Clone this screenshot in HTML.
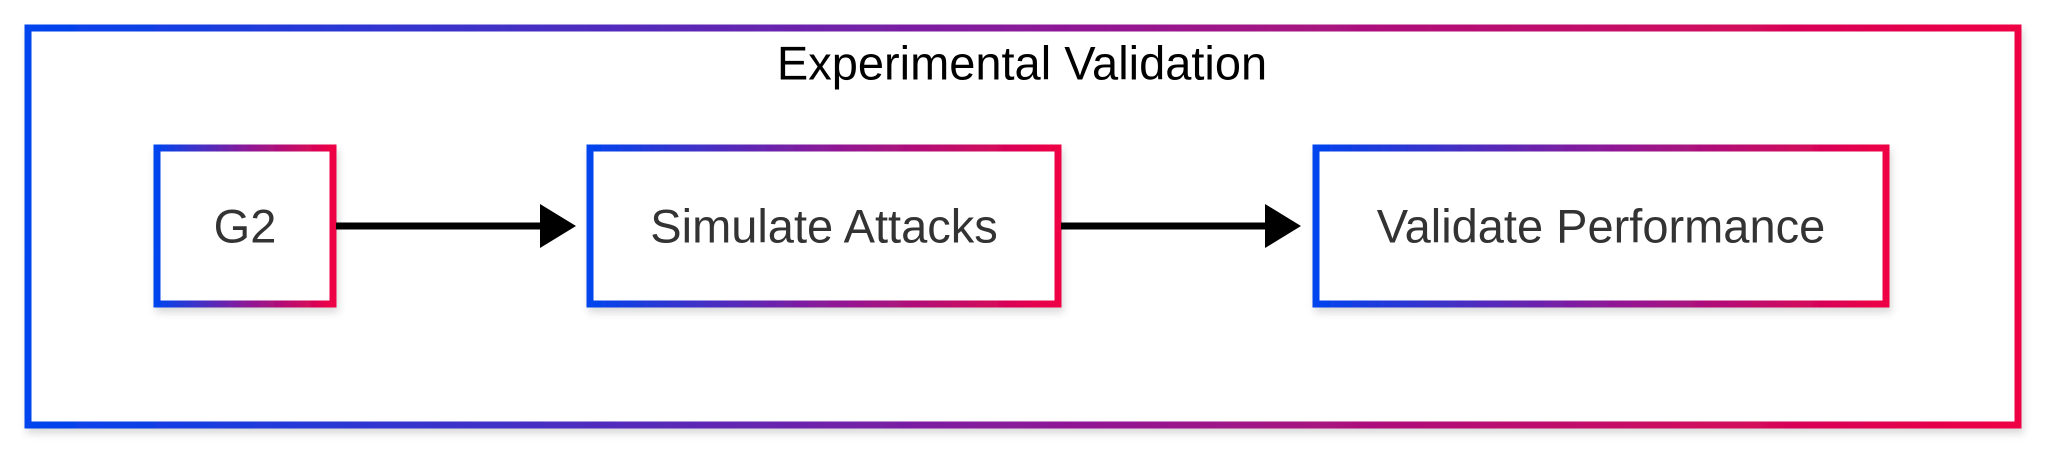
<!DOCTYPE html>
<html><head><meta charset="utf-8"><style>
html,body{margin:0;padding:0;background:#fff;}
svg{display:block;}
</style></head><body>
<svg width="2048" height="453" viewBox="0 0 2048 453" xmlns="http://www.w3.org/2000/svg">
<defs>
<linearGradient id="g" x1="0" y1="0" x2="1" y2="0">
<stop offset="0" stop-color="#0044ee"/><stop offset="0.5" stop-color="#8a1a99"/><stop offset="1" stop-color="#ee0044"/>
</linearGradient>
<filter id="s" x="-10%" y="-10%" width="120%" height="130%">
<feDropShadow dx="2" dy="5" stdDeviation="4" flood-color="#000" flood-opacity="0.15"/>
</filter>
</defs>
<rect x="28" y="28" width="1990" height="397" fill="#fff" stroke="url(#g)" stroke-width="7" filter="url(#s)"/>
<text x="1022" y="63" font-family="Liberation Sans, sans-serif" font-size="47" fill="#000" text-anchor="middle" dominant-baseline="central">Experimental Validation</text>

<rect x="157" y="148" width="176" height="156" fill="#fff" stroke="url(#g)" stroke-width="7" filter="url(#s)"/>
<text x="245" y="226" font-family="Liberation Sans, sans-serif" font-size="47" fill="#333" text-anchor="middle" dominant-baseline="central">G2</text>

<rect x="590" y="148" width="468" height="156" fill="#fff" stroke="url(#g)" stroke-width="7" filter="url(#s)"/>
<text x="824" y="226" font-family="Liberation Sans, sans-serif" font-size="47" fill="#333" text-anchor="middle" dominant-baseline="central">Simulate Attacks</text>

<rect x="1316" y="148" width="570" height="156" fill="#fff" stroke="url(#g)" stroke-width="7" filter="url(#s)"/>
<text x="1601" y="226" font-family="Liberation Sans, sans-serif" font-size="47" fill="#333" text-anchor="middle" dominant-baseline="central">Validate Performance</text>

<line x1="336" y1="226" x2="545" y2="226" stroke="#000" stroke-width="7"/>
<polygon points="540,204 576,226 540,248" fill="#000"/>
<line x1="1061" y1="226" x2="1270" y2="226" stroke="#000" stroke-width="7"/>
<polygon points="1265,204 1301,226 1265,248" fill="#000"/>
</svg>
</body></html>
